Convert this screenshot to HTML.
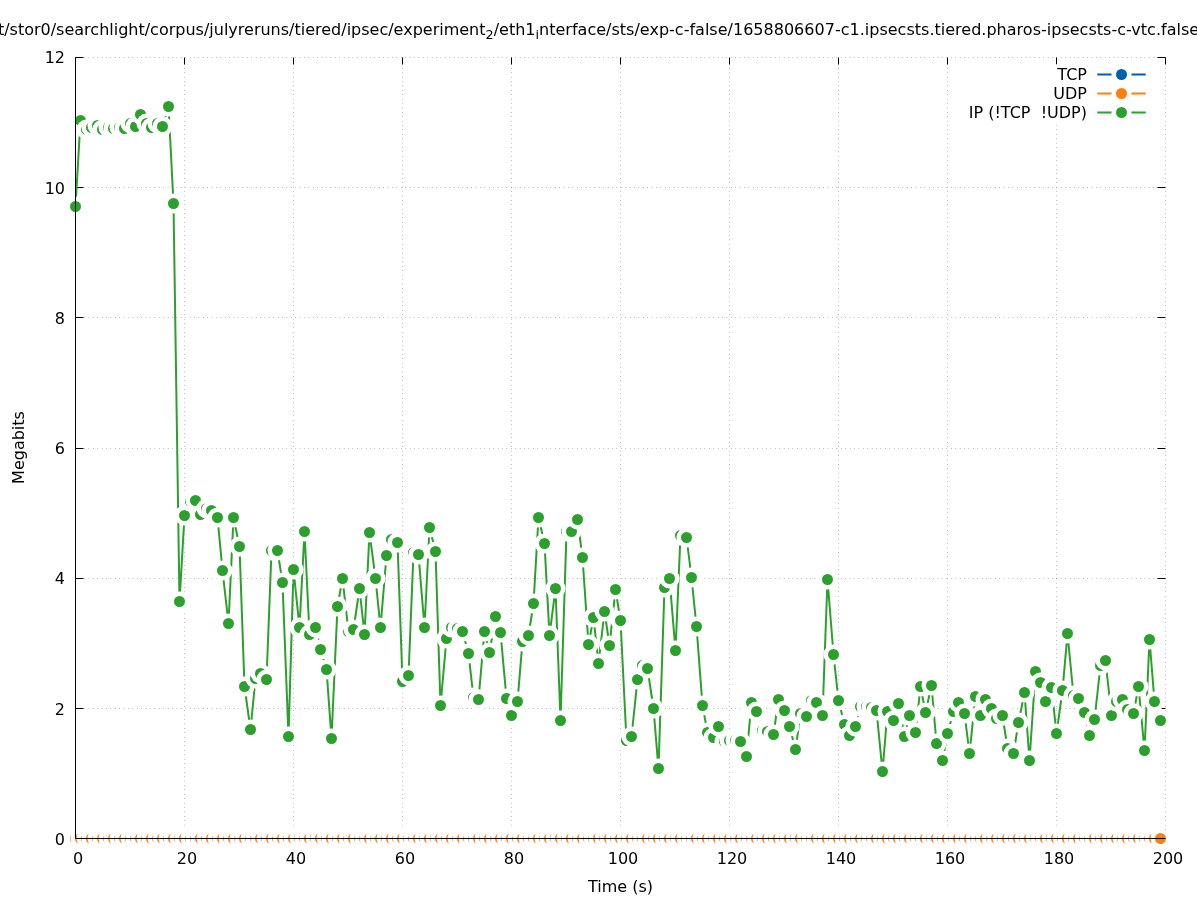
<!DOCTYPE html>
<html><head><meta charset="utf-8"><title>Megabits over time</title>
<style>html,body{margin:0;padding:0;background:#fff;overflow:hidden}svg{display:block}text{font-family:"DejaVu Sans","Liberation Sans",sans-serif;font-size:16px;fill:#000}</style>
</head><body>
<svg width="1197" height="900" viewBox="0 0 1197 900">
<rect width="1197" height="900" fill="#fff"/>
<g stroke="#000" stroke-width="0.6" stroke-dasharray="0.4 4" fill="none">
<path d="M75.5 838.50H1165.5"/>
<path d="M75.5 708.50H1165.5"/>
<path d="M75.5 578.50H1165.5"/>
<path d="M75.5 448.50H1165.5"/>
<path d="M75.5 317.50H1165.5"/>
<path d="M75.5 187.50H1165.5"/>
<path d="M75.5 57.50H1165.5"/>
<path d="M75.50 838.5V57.5"/>
<path d="M184.50 838.5V57.5"/>
<path d="M293.50 838.5V57.5"/>
<path d="M402.50 838.5V57.5"/>
<path d="M511.50 838.5V57.5"/>
<path d="M620.50 838.5V57.5"/>
<path d="M729.50 838.5V57.5"/>
<path d="M838.50 838.5V57.5"/>
<path d="M947.50 838.5V57.5"/>
<path d="M1056.50 838.5V57.5"/>
<path d="M1165.50 838.5V57.5"/>
</g>
<g stroke="#000" stroke-width="1" fill="none">
<path d="M75.5 838.50h8M1165.5 838.50h-8"/>
<path d="M75.5 708.50h8M1165.5 708.50h-8"/>
<path d="M75.5 578.50h8M1165.5 578.50h-8"/>
<path d="M75.5 448.50h8M1165.5 448.50h-8"/>
<path d="M75.5 317.50h8M1165.5 317.50h-8"/>
<path d="M75.5 187.50h8M1165.5 187.50h-8"/>
<path d="M75.5 57.50h8M1165.5 57.50h-8"/>
<path d="M75.50 838.5v-7M75.50 57.5v7"/>
<path d="M184.50 838.5v-7M184.50 57.5v7"/>
<path d="M293.50 838.5v-7M293.50 57.5v7"/>
<path d="M402.50 838.5v-7M402.50 57.5v7"/>
<path d="M511.50 838.5v-7M511.50 57.5v7"/>
<path d="M620.50 838.5v-7M620.50 57.5v7"/>
<path d="M729.50 838.5v-7M729.50 57.5v7"/>
<path d="M838.50 838.5v-7M838.50 57.5v7"/>
<path d="M947.50 838.5v-7M947.50 57.5v7"/>
<path d="M1056.50 838.5v-7M1056.50 57.5v7"/>
<path d="M1165.50 838.5v-7M1165.50 57.5v7"/>
</g>
<g text-anchor="end">
<text x="65" y="845">0</text>
<text x="65" y="715">2</text>
<text x="65" y="584">4</text>
<text x="65" y="454">6</text>
<text x="65" y="324">8</text>
<text x="65" y="194">10</text>
<text x="65" y="63">12</text>
</g>
<g text-anchor="middle">
<text x="78.0" y="863.5">0</text>
<text x="187.0" y="863.5">20</text>
<text x="296.0" y="863.5">40</text>
<text x="405.0" y="863.5">60</text>
<text x="514.0" y="863.5">80</text>
<text x="623.0" y="863.5">100</text>
<text x="732.0" y="863.5">120</text>
<text x="841.0" y="863.5">140</text>
<text x="950.0" y="863.5">160</text>
<text x="1059.0" y="863.5">180</text>
<text x="1168.0" y="863.5">200</text>
<text x="620.5" y="891.5">Time (s)</text>
<text transform="translate(24,447.5) rotate(-90)">Megabits</text>
</g>
<text x="-2.1" y="35">t/stor0/searchlight/corpus/julyreruns/tiered/ipsec/experiment<tspan dy="3.84" font-size="12.8px">2</tspan><tspan dy="-3.84">/eth1</tspan><tspan dy="3.84" font-size="12.8px">i</tspan><tspan dy="-3.84" letter-spacing="0.012">nterface/sts/exp-c-false/1658806607-c1.ipsecsts.tiered.pharos-ipsecsts-c-vtc.false</tspan></text>
<rect x="960" y="64.5" width="198.5" height="60" fill="#fff"/>
<text x="1087" y="79.5" text-anchor="end" xml:space="preserve" style="white-space:pre">TCP</text>
<path d="M1097.3 74.5H1145.7" stroke="#0060ad" stroke-width="2" fill="none"/>
<circle cx="1121.5" cy="74.5" r="10.0" fill="#fff"/><circle cx="1121.5" cy="74.5" r="5.5" fill="#0060ad"/>
<text x="1087" y="98.5" text-anchor="end" xml:space="preserve" style="white-space:pre">UDP</text>
<path d="M1097.3 93.5H1145.7" stroke="#ff7f0e" stroke-width="2" fill="none"/>
<circle cx="1121.5" cy="93.5" r="10.0" fill="#fff"/><circle cx="1121.5" cy="93.5" r="5.5" fill="#ff7f0e"/>
<path d="M75.5 838.5H1160.50" stroke="#ff7f0e" stroke-width="2" fill="none"/>
<g>
<circle cx="75.50" cy="838.5" r="10.0" fill="#fff"/><circle cx="75.50" cy="838.5" r="5.5" fill="#ff7f0e"/>
<circle cx="80.50" cy="838.5" r="10.0" fill="#fff"/><circle cx="80.50" cy="838.5" r="5.5" fill="#ff7f0e"/>
<circle cx="86.50" cy="838.5" r="10.0" fill="#fff"/><circle cx="86.50" cy="838.5" r="5.5" fill="#ff7f0e"/>
<circle cx="91.50" cy="838.5" r="10.0" fill="#fff"/><circle cx="91.50" cy="838.5" r="5.5" fill="#ff7f0e"/>
<circle cx="97.50" cy="838.5" r="10.0" fill="#fff"/><circle cx="97.50" cy="838.5" r="5.5" fill="#ff7f0e"/>
<circle cx="102.50" cy="838.5" r="10.0" fill="#fff"/><circle cx="102.50" cy="838.5" r="5.5" fill="#ff7f0e"/>
<circle cx="108.50" cy="838.5" r="10.0" fill="#fff"/><circle cx="108.50" cy="838.5" r="5.5" fill="#ff7f0e"/>
<circle cx="113.50" cy="838.5" r="10.0" fill="#fff"/><circle cx="113.50" cy="838.5" r="5.5" fill="#ff7f0e"/>
<circle cx="119.50" cy="838.5" r="10.0" fill="#fff"/><circle cx="119.50" cy="838.5" r="5.5" fill="#ff7f0e"/>
<circle cx="124.50" cy="838.5" r="10.0" fill="#fff"/><circle cx="124.50" cy="838.5" r="5.5" fill="#ff7f0e"/>
<circle cx="130.50" cy="838.5" r="10.0" fill="#fff"/><circle cx="130.50" cy="838.5" r="5.5" fill="#ff7f0e"/>
<circle cx="135.50" cy="838.5" r="10.0" fill="#fff"/><circle cx="135.50" cy="838.5" r="5.5" fill="#ff7f0e"/>
<circle cx="140.50" cy="838.5" r="10.0" fill="#fff"/><circle cx="140.50" cy="838.5" r="5.5" fill="#ff7f0e"/>
<circle cx="146.50" cy="838.5" r="10.0" fill="#fff"/><circle cx="146.50" cy="838.5" r="5.5" fill="#ff7f0e"/>
<circle cx="151.50" cy="838.5" r="10.0" fill="#fff"/><circle cx="151.50" cy="838.5" r="5.5" fill="#ff7f0e"/>
<circle cx="157.50" cy="838.5" r="10.0" fill="#fff"/><circle cx="157.50" cy="838.5" r="5.5" fill="#ff7f0e"/>
<circle cx="162.50" cy="838.5" r="10.0" fill="#fff"/><circle cx="162.50" cy="838.5" r="5.5" fill="#ff7f0e"/>
<circle cx="168.50" cy="838.5" r="10.0" fill="#fff"/><circle cx="168.50" cy="838.5" r="5.5" fill="#ff7f0e"/>
<circle cx="173.50" cy="838.5" r="10.0" fill="#fff"/><circle cx="173.50" cy="838.5" r="5.5" fill="#ff7f0e"/>
<circle cx="179.50" cy="838.5" r="10.0" fill="#fff"/><circle cx="179.50" cy="838.5" r="5.5" fill="#ff7f0e"/>
<circle cx="184.50" cy="838.5" r="10.0" fill="#fff"/><circle cx="184.50" cy="838.5" r="5.5" fill="#ff7f0e"/>
<circle cx="190.50" cy="838.5" r="10.0" fill="#fff"/><circle cx="190.50" cy="838.5" r="5.5" fill="#ff7f0e"/>
<circle cx="195.50" cy="838.5" r="10.0" fill="#fff"/><circle cx="195.50" cy="838.5" r="5.5" fill="#ff7f0e"/>
<circle cx="200.50" cy="838.5" r="10.0" fill="#fff"/><circle cx="200.50" cy="838.5" r="5.5" fill="#ff7f0e"/>
<circle cx="206.50" cy="838.5" r="10.0" fill="#fff"/><circle cx="206.50" cy="838.5" r="5.5" fill="#ff7f0e"/>
<circle cx="211.50" cy="838.5" r="10.0" fill="#fff"/><circle cx="211.50" cy="838.5" r="5.5" fill="#ff7f0e"/>
<circle cx="217.50" cy="838.5" r="10.0" fill="#fff"/><circle cx="217.50" cy="838.5" r="5.5" fill="#ff7f0e"/>
<circle cx="222.50" cy="838.5" r="10.0" fill="#fff"/><circle cx="222.50" cy="838.5" r="5.5" fill="#ff7f0e"/>
<circle cx="228.50" cy="838.5" r="10.0" fill="#fff"/><circle cx="228.50" cy="838.5" r="5.5" fill="#ff7f0e"/>
<circle cx="233.50" cy="838.5" r="10.0" fill="#fff"/><circle cx="233.50" cy="838.5" r="5.5" fill="#ff7f0e"/>
<circle cx="239.50" cy="838.5" r="10.0" fill="#fff"/><circle cx="239.50" cy="838.5" r="5.5" fill="#ff7f0e"/>
<circle cx="244.50" cy="838.5" r="10.0" fill="#fff"/><circle cx="244.50" cy="838.5" r="5.5" fill="#ff7f0e"/>
<circle cx="250.50" cy="838.5" r="10.0" fill="#fff"/><circle cx="250.50" cy="838.5" r="5.5" fill="#ff7f0e"/>
<circle cx="255.50" cy="838.5" r="10.0" fill="#fff"/><circle cx="255.50" cy="838.5" r="5.5" fill="#ff7f0e"/>
<circle cx="260.50" cy="838.5" r="10.0" fill="#fff"/><circle cx="260.50" cy="838.5" r="5.5" fill="#ff7f0e"/>
<circle cx="266.50" cy="838.5" r="10.0" fill="#fff"/><circle cx="266.50" cy="838.5" r="5.5" fill="#ff7f0e"/>
<circle cx="271.50" cy="838.5" r="10.0" fill="#fff"/><circle cx="271.50" cy="838.5" r="5.5" fill="#ff7f0e"/>
<circle cx="277.50" cy="838.5" r="10.0" fill="#fff"/><circle cx="277.50" cy="838.5" r="5.5" fill="#ff7f0e"/>
<circle cx="282.50" cy="838.5" r="10.0" fill="#fff"/><circle cx="282.50" cy="838.5" r="5.5" fill="#ff7f0e"/>
<circle cx="288.50" cy="838.5" r="10.0" fill="#fff"/><circle cx="288.50" cy="838.5" r="5.5" fill="#ff7f0e"/>
<circle cx="293.50" cy="838.5" r="10.0" fill="#fff"/><circle cx="293.50" cy="838.5" r="5.5" fill="#ff7f0e"/>
<circle cx="299.50" cy="838.5" r="10.0" fill="#fff"/><circle cx="299.50" cy="838.5" r="5.5" fill="#ff7f0e"/>
<circle cx="304.50" cy="838.5" r="10.0" fill="#fff"/><circle cx="304.50" cy="838.5" r="5.5" fill="#ff7f0e"/>
<circle cx="309.50" cy="838.5" r="10.0" fill="#fff"/><circle cx="309.50" cy="838.5" r="5.5" fill="#ff7f0e"/>
<circle cx="315.50" cy="838.5" r="10.0" fill="#fff"/><circle cx="315.50" cy="838.5" r="5.5" fill="#ff7f0e"/>
<circle cx="320.50" cy="838.5" r="10.0" fill="#fff"/><circle cx="320.50" cy="838.5" r="5.5" fill="#ff7f0e"/>
<circle cx="326.50" cy="838.5" r="10.0" fill="#fff"/><circle cx="326.50" cy="838.5" r="5.5" fill="#ff7f0e"/>
<circle cx="331.50" cy="838.5" r="10.0" fill="#fff"/><circle cx="331.50" cy="838.5" r="5.5" fill="#ff7f0e"/>
<circle cx="337.50" cy="838.5" r="10.0" fill="#fff"/><circle cx="337.50" cy="838.5" r="5.5" fill="#ff7f0e"/>
<circle cx="342.50" cy="838.5" r="10.0" fill="#fff"/><circle cx="342.50" cy="838.5" r="5.5" fill="#ff7f0e"/>
<circle cx="348.50" cy="838.5" r="10.0" fill="#fff"/><circle cx="348.50" cy="838.5" r="5.5" fill="#ff7f0e"/>
<circle cx="353.50" cy="838.5" r="10.0" fill="#fff"/><circle cx="353.50" cy="838.5" r="5.5" fill="#ff7f0e"/>
<circle cx="359.50" cy="838.5" r="10.0" fill="#fff"/><circle cx="359.50" cy="838.5" r="5.5" fill="#ff7f0e"/>
<circle cx="364.50" cy="838.5" r="10.0" fill="#fff"/><circle cx="364.50" cy="838.5" r="5.5" fill="#ff7f0e"/>
<circle cx="369.50" cy="838.5" r="10.0" fill="#fff"/><circle cx="369.50" cy="838.5" r="5.5" fill="#ff7f0e"/>
<circle cx="375.50" cy="838.5" r="10.0" fill="#fff"/><circle cx="375.50" cy="838.5" r="5.5" fill="#ff7f0e"/>
<circle cx="380.50" cy="838.5" r="10.0" fill="#fff"/><circle cx="380.50" cy="838.5" r="5.5" fill="#ff7f0e"/>
<circle cx="386.50" cy="838.5" r="10.0" fill="#fff"/><circle cx="386.50" cy="838.5" r="5.5" fill="#ff7f0e"/>
<circle cx="391.50" cy="838.5" r="10.0" fill="#fff"/><circle cx="391.50" cy="838.5" r="5.5" fill="#ff7f0e"/>
<circle cx="397.50" cy="838.5" r="10.0" fill="#fff"/><circle cx="397.50" cy="838.5" r="5.5" fill="#ff7f0e"/>
<circle cx="402.50" cy="838.5" r="10.0" fill="#fff"/><circle cx="402.50" cy="838.5" r="5.5" fill="#ff7f0e"/>
<circle cx="408.50" cy="838.5" r="10.0" fill="#fff"/><circle cx="408.50" cy="838.5" r="5.5" fill="#ff7f0e"/>
<circle cx="413.50" cy="838.5" r="10.0" fill="#fff"/><circle cx="413.50" cy="838.5" r="5.5" fill="#ff7f0e"/>
<circle cx="418.50" cy="838.5" r="10.0" fill="#fff"/><circle cx="418.50" cy="838.5" r="5.5" fill="#ff7f0e"/>
<circle cx="424.50" cy="838.5" r="10.0" fill="#fff"/><circle cx="424.50" cy="838.5" r="5.5" fill="#ff7f0e"/>
<circle cx="429.50" cy="838.5" r="10.0" fill="#fff"/><circle cx="429.50" cy="838.5" r="5.5" fill="#ff7f0e"/>
<circle cx="435.50" cy="838.5" r="10.0" fill="#fff"/><circle cx="435.50" cy="838.5" r="5.5" fill="#ff7f0e"/>
<circle cx="440.50" cy="838.5" r="10.0" fill="#fff"/><circle cx="440.50" cy="838.5" r="5.5" fill="#ff7f0e"/>
<circle cx="446.50" cy="838.5" r="10.0" fill="#fff"/><circle cx="446.50" cy="838.5" r="5.5" fill="#ff7f0e"/>
<circle cx="451.50" cy="838.5" r="10.0" fill="#fff"/><circle cx="451.50" cy="838.5" r="5.5" fill="#ff7f0e"/>
<circle cx="457.50" cy="838.5" r="10.0" fill="#fff"/><circle cx="457.50" cy="838.5" r="5.5" fill="#ff7f0e"/>
<circle cx="462.50" cy="838.5" r="10.0" fill="#fff"/><circle cx="462.50" cy="838.5" r="5.5" fill="#ff7f0e"/>
<circle cx="468.50" cy="838.5" r="10.0" fill="#fff"/><circle cx="468.50" cy="838.5" r="5.5" fill="#ff7f0e"/>
<circle cx="473.50" cy="838.5" r="10.0" fill="#fff"/><circle cx="473.50" cy="838.5" r="5.5" fill="#ff7f0e"/>
<circle cx="478.50" cy="838.5" r="10.0" fill="#fff"/><circle cx="478.50" cy="838.5" r="5.5" fill="#ff7f0e"/>
<circle cx="484.50" cy="838.5" r="10.0" fill="#fff"/><circle cx="484.50" cy="838.5" r="5.5" fill="#ff7f0e"/>
<circle cx="489.50" cy="838.5" r="10.0" fill="#fff"/><circle cx="489.50" cy="838.5" r="5.5" fill="#ff7f0e"/>
<circle cx="495.50" cy="838.5" r="10.0" fill="#fff"/><circle cx="495.50" cy="838.5" r="5.5" fill="#ff7f0e"/>
<circle cx="500.50" cy="838.5" r="10.0" fill="#fff"/><circle cx="500.50" cy="838.5" r="5.5" fill="#ff7f0e"/>
<circle cx="506.50" cy="838.5" r="10.0" fill="#fff"/><circle cx="506.50" cy="838.5" r="5.5" fill="#ff7f0e"/>
<circle cx="511.50" cy="838.5" r="10.0" fill="#fff"/><circle cx="511.50" cy="838.5" r="5.5" fill="#ff7f0e"/>
<circle cx="517.50" cy="838.5" r="10.0" fill="#fff"/><circle cx="517.50" cy="838.5" r="5.5" fill="#ff7f0e"/>
<circle cx="522.50" cy="838.5" r="10.0" fill="#fff"/><circle cx="522.50" cy="838.5" r="5.5" fill="#ff7f0e"/>
<circle cx="528.50" cy="838.5" r="10.0" fill="#fff"/><circle cx="528.50" cy="838.5" r="5.5" fill="#ff7f0e"/>
<circle cx="533.50" cy="838.5" r="10.0" fill="#fff"/><circle cx="533.50" cy="838.5" r="5.5" fill="#ff7f0e"/>
<circle cx="538.50" cy="838.5" r="10.0" fill="#fff"/><circle cx="538.50" cy="838.5" r="5.5" fill="#ff7f0e"/>
<circle cx="544.50" cy="838.5" r="10.0" fill="#fff"/><circle cx="544.50" cy="838.5" r="5.5" fill="#ff7f0e"/>
<circle cx="549.50" cy="838.5" r="10.0" fill="#fff"/><circle cx="549.50" cy="838.5" r="5.5" fill="#ff7f0e"/>
<circle cx="555.50" cy="838.5" r="10.0" fill="#fff"/><circle cx="555.50" cy="838.5" r="5.5" fill="#ff7f0e"/>
<circle cx="560.50" cy="838.5" r="10.0" fill="#fff"/><circle cx="560.50" cy="838.5" r="5.5" fill="#ff7f0e"/>
<circle cx="566.50" cy="838.5" r="10.0" fill="#fff"/><circle cx="566.50" cy="838.5" r="5.5" fill="#ff7f0e"/>
<circle cx="571.50" cy="838.5" r="10.0" fill="#fff"/><circle cx="571.50" cy="838.5" r="5.5" fill="#ff7f0e"/>
<circle cx="577.50" cy="838.5" r="10.0" fill="#fff"/><circle cx="577.50" cy="838.5" r="5.5" fill="#ff7f0e"/>
<circle cx="582.50" cy="838.5" r="10.0" fill="#fff"/><circle cx="582.50" cy="838.5" r="5.5" fill="#ff7f0e"/>
<circle cx="588.50" cy="838.5" r="10.0" fill="#fff"/><circle cx="588.50" cy="838.5" r="5.5" fill="#ff7f0e"/>
<circle cx="593.50" cy="838.5" r="10.0" fill="#fff"/><circle cx="593.50" cy="838.5" r="5.5" fill="#ff7f0e"/>
<circle cx="598.50" cy="838.5" r="10.0" fill="#fff"/><circle cx="598.50" cy="838.5" r="5.5" fill="#ff7f0e"/>
<circle cx="604.50" cy="838.5" r="10.0" fill="#fff"/><circle cx="604.50" cy="838.5" r="5.5" fill="#ff7f0e"/>
<circle cx="609.50" cy="838.5" r="10.0" fill="#fff"/><circle cx="609.50" cy="838.5" r="5.5" fill="#ff7f0e"/>
<circle cx="615.50" cy="838.5" r="10.0" fill="#fff"/><circle cx="615.50" cy="838.5" r="5.5" fill="#ff7f0e"/>
<circle cx="620.50" cy="838.5" r="10.0" fill="#fff"/><circle cx="620.50" cy="838.5" r="5.5" fill="#ff7f0e"/>
<circle cx="626.50" cy="838.5" r="10.0" fill="#fff"/><circle cx="626.50" cy="838.5" r="5.5" fill="#ff7f0e"/>
<circle cx="631.50" cy="838.5" r="10.0" fill="#fff"/><circle cx="631.50" cy="838.5" r="5.5" fill="#ff7f0e"/>
<circle cx="637.50" cy="838.5" r="10.0" fill="#fff"/><circle cx="637.50" cy="838.5" r="5.5" fill="#ff7f0e"/>
<circle cx="642.50" cy="838.5" r="10.0" fill="#fff"/><circle cx="642.50" cy="838.5" r="5.5" fill="#ff7f0e"/>
<circle cx="647.50" cy="838.5" r="10.0" fill="#fff"/><circle cx="647.50" cy="838.5" r="5.5" fill="#ff7f0e"/>
<circle cx="653.50" cy="838.5" r="10.0" fill="#fff"/><circle cx="653.50" cy="838.5" r="5.5" fill="#ff7f0e"/>
<circle cx="658.50" cy="838.5" r="10.0" fill="#fff"/><circle cx="658.50" cy="838.5" r="5.5" fill="#ff7f0e"/>
<circle cx="664.50" cy="838.5" r="10.0" fill="#fff"/><circle cx="664.50" cy="838.5" r="5.5" fill="#ff7f0e"/>
<circle cx="669.50" cy="838.5" r="10.0" fill="#fff"/><circle cx="669.50" cy="838.5" r="5.5" fill="#ff7f0e"/>
<circle cx="675.50" cy="838.5" r="10.0" fill="#fff"/><circle cx="675.50" cy="838.5" r="5.5" fill="#ff7f0e"/>
<circle cx="680.50" cy="838.5" r="10.0" fill="#fff"/><circle cx="680.50" cy="838.5" r="5.5" fill="#ff7f0e"/>
<circle cx="686.50" cy="838.5" r="10.0" fill="#fff"/><circle cx="686.50" cy="838.5" r="5.5" fill="#ff7f0e"/>
<circle cx="691.50" cy="838.5" r="10.0" fill="#fff"/><circle cx="691.50" cy="838.5" r="5.5" fill="#ff7f0e"/>
<circle cx="696.50" cy="838.5" r="10.0" fill="#fff"/><circle cx="696.50" cy="838.5" r="5.5" fill="#ff7f0e"/>
<circle cx="702.50" cy="838.5" r="10.0" fill="#fff"/><circle cx="702.50" cy="838.5" r="5.5" fill="#ff7f0e"/>
<circle cx="707.50" cy="838.5" r="10.0" fill="#fff"/><circle cx="707.50" cy="838.5" r="5.5" fill="#ff7f0e"/>
<circle cx="713.50" cy="838.5" r="10.0" fill="#fff"/><circle cx="713.50" cy="838.5" r="5.5" fill="#ff7f0e"/>
<circle cx="718.50" cy="838.5" r="10.0" fill="#fff"/><circle cx="718.50" cy="838.5" r="5.5" fill="#ff7f0e"/>
<circle cx="724.50" cy="838.5" r="10.0" fill="#fff"/><circle cx="724.50" cy="838.5" r="5.5" fill="#ff7f0e"/>
<circle cx="729.50" cy="838.5" r="10.0" fill="#fff"/><circle cx="729.50" cy="838.5" r="5.5" fill="#ff7f0e"/>
<circle cx="735.50" cy="838.5" r="10.0" fill="#fff"/><circle cx="735.50" cy="838.5" r="5.5" fill="#ff7f0e"/>
<circle cx="740.50" cy="838.5" r="10.0" fill="#fff"/><circle cx="740.50" cy="838.5" r="5.5" fill="#ff7f0e"/>
<circle cx="746.50" cy="838.5" r="10.0" fill="#fff"/><circle cx="746.50" cy="838.5" r="5.5" fill="#ff7f0e"/>
<circle cx="751.50" cy="838.5" r="10.0" fill="#fff"/><circle cx="751.50" cy="838.5" r="5.5" fill="#ff7f0e"/>
<circle cx="756.50" cy="838.5" r="10.0" fill="#fff"/><circle cx="756.50" cy="838.5" r="5.5" fill="#ff7f0e"/>
<circle cx="762.50" cy="838.5" r="10.0" fill="#fff"/><circle cx="762.50" cy="838.5" r="5.5" fill="#ff7f0e"/>
<circle cx="767.50" cy="838.5" r="10.0" fill="#fff"/><circle cx="767.50" cy="838.5" r="5.5" fill="#ff7f0e"/>
<circle cx="773.50" cy="838.5" r="10.0" fill="#fff"/><circle cx="773.50" cy="838.5" r="5.5" fill="#ff7f0e"/>
<circle cx="778.50" cy="838.5" r="10.0" fill="#fff"/><circle cx="778.50" cy="838.5" r="5.5" fill="#ff7f0e"/>
<circle cx="784.50" cy="838.5" r="10.0" fill="#fff"/><circle cx="784.50" cy="838.5" r="5.5" fill="#ff7f0e"/>
<circle cx="789.50" cy="838.5" r="10.0" fill="#fff"/><circle cx="789.50" cy="838.5" r="5.5" fill="#ff7f0e"/>
<circle cx="795.50" cy="838.5" r="10.0" fill="#fff"/><circle cx="795.50" cy="838.5" r="5.5" fill="#ff7f0e"/>
<circle cx="800.50" cy="838.5" r="10.0" fill="#fff"/><circle cx="800.50" cy="838.5" r="5.5" fill="#ff7f0e"/>
<circle cx="806.50" cy="838.5" r="10.0" fill="#fff"/><circle cx="806.50" cy="838.5" r="5.5" fill="#ff7f0e"/>
<circle cx="811.50" cy="838.5" r="10.0" fill="#fff"/><circle cx="811.50" cy="838.5" r="5.5" fill="#ff7f0e"/>
<circle cx="816.50" cy="838.5" r="10.0" fill="#fff"/><circle cx="816.50" cy="838.5" r="5.5" fill="#ff7f0e"/>
<circle cx="822.50" cy="838.5" r="10.0" fill="#fff"/><circle cx="822.50" cy="838.5" r="5.5" fill="#ff7f0e"/>
<circle cx="827.50" cy="838.5" r="10.0" fill="#fff"/><circle cx="827.50" cy="838.5" r="5.5" fill="#ff7f0e"/>
<circle cx="833.50" cy="838.5" r="10.0" fill="#fff"/><circle cx="833.50" cy="838.5" r="5.5" fill="#ff7f0e"/>
<circle cx="838.50" cy="838.5" r="10.0" fill="#fff"/><circle cx="838.50" cy="838.5" r="5.5" fill="#ff7f0e"/>
<circle cx="844.50" cy="838.5" r="10.0" fill="#fff"/><circle cx="844.50" cy="838.5" r="5.5" fill="#ff7f0e"/>
<circle cx="849.50" cy="838.5" r="10.0" fill="#fff"/><circle cx="849.50" cy="838.5" r="5.5" fill="#ff7f0e"/>
<circle cx="855.50" cy="838.5" r="10.0" fill="#fff"/><circle cx="855.50" cy="838.5" r="5.5" fill="#ff7f0e"/>
<circle cx="860.50" cy="838.5" r="10.0" fill="#fff"/><circle cx="860.50" cy="838.5" r="5.5" fill="#ff7f0e"/>
<circle cx="866.50" cy="838.5" r="10.0" fill="#fff"/><circle cx="866.50" cy="838.5" r="5.5" fill="#ff7f0e"/>
<circle cx="871.50" cy="838.5" r="10.0" fill="#fff"/><circle cx="871.50" cy="838.5" r="5.5" fill="#ff7f0e"/>
<circle cx="876.50" cy="838.5" r="10.0" fill="#fff"/><circle cx="876.50" cy="838.5" r="5.5" fill="#ff7f0e"/>
<circle cx="882.50" cy="838.5" r="10.0" fill="#fff"/><circle cx="882.50" cy="838.5" r="5.5" fill="#ff7f0e"/>
<circle cx="887.50" cy="838.5" r="10.0" fill="#fff"/><circle cx="887.50" cy="838.5" r="5.5" fill="#ff7f0e"/>
<circle cx="893.50" cy="838.5" r="10.0" fill="#fff"/><circle cx="893.50" cy="838.5" r="5.5" fill="#ff7f0e"/>
<circle cx="898.50" cy="838.5" r="10.0" fill="#fff"/><circle cx="898.50" cy="838.5" r="5.5" fill="#ff7f0e"/>
<circle cx="904.50" cy="838.5" r="10.0" fill="#fff"/><circle cx="904.50" cy="838.5" r="5.5" fill="#ff7f0e"/>
<circle cx="909.50" cy="838.5" r="10.0" fill="#fff"/><circle cx="909.50" cy="838.5" r="5.5" fill="#ff7f0e"/>
<circle cx="915.50" cy="838.5" r="10.0" fill="#fff"/><circle cx="915.50" cy="838.5" r="5.5" fill="#ff7f0e"/>
<circle cx="920.50" cy="838.5" r="10.0" fill="#fff"/><circle cx="920.50" cy="838.5" r="5.5" fill="#ff7f0e"/>
<circle cx="925.50" cy="838.5" r="10.0" fill="#fff"/><circle cx="925.50" cy="838.5" r="5.5" fill="#ff7f0e"/>
<circle cx="931.50" cy="838.5" r="10.0" fill="#fff"/><circle cx="931.50" cy="838.5" r="5.5" fill="#ff7f0e"/>
<circle cx="936.50" cy="838.5" r="10.0" fill="#fff"/><circle cx="936.50" cy="838.5" r="5.5" fill="#ff7f0e"/>
<circle cx="942.50" cy="838.5" r="10.0" fill="#fff"/><circle cx="942.50" cy="838.5" r="5.5" fill="#ff7f0e"/>
<circle cx="947.50" cy="838.5" r="10.0" fill="#fff"/><circle cx="947.50" cy="838.5" r="5.5" fill="#ff7f0e"/>
<circle cx="953.50" cy="838.5" r="10.0" fill="#fff"/><circle cx="953.50" cy="838.5" r="5.5" fill="#ff7f0e"/>
<circle cx="958.50" cy="838.5" r="10.0" fill="#fff"/><circle cx="958.50" cy="838.5" r="5.5" fill="#ff7f0e"/>
<circle cx="964.50" cy="838.5" r="10.0" fill="#fff"/><circle cx="964.50" cy="838.5" r="5.5" fill="#ff7f0e"/>
<circle cx="969.50" cy="838.5" r="10.0" fill="#fff"/><circle cx="969.50" cy="838.5" r="5.5" fill="#ff7f0e"/>
<circle cx="975.50" cy="838.5" r="10.0" fill="#fff"/><circle cx="975.50" cy="838.5" r="5.5" fill="#ff7f0e"/>
<circle cx="980.50" cy="838.5" r="10.0" fill="#fff"/><circle cx="980.50" cy="838.5" r="5.5" fill="#ff7f0e"/>
<circle cx="985.50" cy="838.5" r="10.0" fill="#fff"/><circle cx="985.50" cy="838.5" r="5.5" fill="#ff7f0e"/>
<circle cx="991.50" cy="838.5" r="10.0" fill="#fff"/><circle cx="991.50" cy="838.5" r="5.5" fill="#ff7f0e"/>
<circle cx="996.50" cy="838.5" r="10.0" fill="#fff"/><circle cx="996.50" cy="838.5" r="5.5" fill="#ff7f0e"/>
<circle cx="1002.50" cy="838.5" r="10.0" fill="#fff"/><circle cx="1002.50" cy="838.5" r="5.5" fill="#ff7f0e"/>
<circle cx="1007.50" cy="838.5" r="10.0" fill="#fff"/><circle cx="1007.50" cy="838.5" r="5.5" fill="#ff7f0e"/>
<circle cx="1013.50" cy="838.5" r="10.0" fill="#fff"/><circle cx="1013.50" cy="838.5" r="5.5" fill="#ff7f0e"/>
<circle cx="1018.50" cy="838.5" r="10.0" fill="#fff"/><circle cx="1018.50" cy="838.5" r="5.5" fill="#ff7f0e"/>
<circle cx="1024.50" cy="838.5" r="10.0" fill="#fff"/><circle cx="1024.50" cy="838.5" r="5.5" fill="#ff7f0e"/>
<circle cx="1029.50" cy="838.5" r="10.0" fill="#fff"/><circle cx="1029.50" cy="838.5" r="5.5" fill="#ff7f0e"/>
<circle cx="1035.50" cy="838.5" r="10.0" fill="#fff"/><circle cx="1035.50" cy="838.5" r="5.5" fill="#ff7f0e"/>
<circle cx="1040.50" cy="838.5" r="10.0" fill="#fff"/><circle cx="1040.50" cy="838.5" r="5.5" fill="#ff7f0e"/>
<circle cx="1045.50" cy="838.5" r="10.0" fill="#fff"/><circle cx="1045.50" cy="838.5" r="5.5" fill="#ff7f0e"/>
<circle cx="1051.50" cy="838.5" r="10.0" fill="#fff"/><circle cx="1051.50" cy="838.5" r="5.5" fill="#ff7f0e"/>
<circle cx="1056.50" cy="838.5" r="10.0" fill="#fff"/><circle cx="1056.50" cy="838.5" r="5.5" fill="#ff7f0e"/>
<circle cx="1062.50" cy="838.5" r="10.0" fill="#fff"/><circle cx="1062.50" cy="838.5" r="5.5" fill="#ff7f0e"/>
<circle cx="1067.50" cy="838.5" r="10.0" fill="#fff"/><circle cx="1067.50" cy="838.5" r="5.5" fill="#ff7f0e"/>
<circle cx="1073.50" cy="838.5" r="10.0" fill="#fff"/><circle cx="1073.50" cy="838.5" r="5.5" fill="#ff7f0e"/>
<circle cx="1078.50" cy="838.5" r="10.0" fill="#fff"/><circle cx="1078.50" cy="838.5" r="5.5" fill="#ff7f0e"/>
<circle cx="1084.50" cy="838.5" r="10.0" fill="#fff"/><circle cx="1084.50" cy="838.5" r="5.5" fill="#ff7f0e"/>
<circle cx="1089.50" cy="838.5" r="10.0" fill="#fff"/><circle cx="1089.50" cy="838.5" r="5.5" fill="#ff7f0e"/>
<circle cx="1094.50" cy="838.5" r="10.0" fill="#fff"/><circle cx="1094.50" cy="838.5" r="5.5" fill="#ff7f0e"/>
<circle cx="1100.50" cy="838.5" r="10.0" fill="#fff"/><circle cx="1100.50" cy="838.5" r="5.5" fill="#ff7f0e"/>
<circle cx="1105.50" cy="838.5" r="10.0" fill="#fff"/><circle cx="1105.50" cy="838.5" r="5.5" fill="#ff7f0e"/>
<circle cx="1111.50" cy="838.5" r="10.0" fill="#fff"/><circle cx="1111.50" cy="838.5" r="5.5" fill="#ff7f0e"/>
<circle cx="1116.50" cy="838.5" r="10.0" fill="#fff"/><circle cx="1116.50" cy="838.5" r="5.5" fill="#ff7f0e"/>
<circle cx="1122.50" cy="838.5" r="10.0" fill="#fff"/><circle cx="1122.50" cy="838.5" r="5.5" fill="#ff7f0e"/>
<circle cx="1127.50" cy="838.5" r="10.0" fill="#fff"/><circle cx="1127.50" cy="838.5" r="5.5" fill="#ff7f0e"/>
<circle cx="1133.50" cy="838.5" r="10.0" fill="#fff"/><circle cx="1133.50" cy="838.5" r="5.5" fill="#ff7f0e"/>
<circle cx="1138.50" cy="838.5" r="10.0" fill="#fff"/><circle cx="1138.50" cy="838.5" r="5.5" fill="#ff7f0e"/>
<circle cx="1144.50" cy="838.5" r="10.0" fill="#fff"/><circle cx="1144.50" cy="838.5" r="5.5" fill="#ff7f0e"/>
<circle cx="1149.50" cy="838.5" r="10.0" fill="#fff"/><circle cx="1149.50" cy="838.5" r="5.5" fill="#ff7f0e"/>
<circle cx="1154.50" cy="838.5" r="10.0" fill="#fff"/><circle cx="1154.50" cy="838.5" r="5.5" fill="#ff7f0e"/>
<circle cx="1160.50" cy="838.5" r="10.0" fill="#fff"/><circle cx="1160.50" cy="838.5" r="5.5" fill="#ff7f0e"/>
</g>
<text x="1087" y="117.5" text-anchor="end" xml:space="preserve" style="white-space:pre">IP (!TCP  !UDP)</text>
<path d="M1097.3 112.5H1145.7" stroke="#2ca02c" stroke-width="2" fill="none"/>
<circle cx="1121.5" cy="112.5" r="10.0" fill="#fff"/><circle cx="1121.5" cy="112.5" r="5.5" fill="#2ca02c"/>
<polyline points="75.5,206.5 80.5,120.5 86.5,129.5 91.5,127.5 97.5,125.5 102.5,129.5 108.5,127.5 113.5,128.5 119.5,127.5 124.5,128.5 130.5,123.5 135.5,126.5 140.5,114.5 146.5,123.5 151.5,127.5 157.5,123.5 162.5,126.5 168.5,106.5 173.5,203.5 179.5,601.5 184.5,515.5 190.5,501.5 195.5,500.5 200.5,514.5 206.5,508.5 211.5,510.5 217.5,517.5 222.5,570.5 228.5,623.5 233.5,517.5 239.5,546.5 244.5,686.5 250.5,729.5 255.5,678.5 260.5,673.5 266.5,679.5 271.5,550.5 277.5,550.5 282.5,582.5 288.5,736.5 293.5,569.5 299.5,627.5 304.5,531.5 309.5,634.5 315.5,627.5 320.5,649.5 326.5,669.5 331.5,738.5 337.5,606.5 342.5,578.5 348.5,631.5 353.5,629.5 359.5,588.5 364.5,634.5 369.5,532.5 375.5,578.5 380.5,627.5 386.5,555.5 391.5,539.5 397.5,542.5 402.5,681.5 408.5,675.5 413.5,552.5 418.5,554.5 424.5,627.5 429.5,527.5 435.5,551.5 440.5,705.5 446.5,638.5 451.5,627.5 457.5,628.5 462.5,631.5 468.5,653.5 473.5,697.5 478.5,699.5 484.5,631.5 489.5,652.5 495.5,616.5 500.5,632.5 506.5,698.5 511.5,715.5 517.5,701.5 522.5,641.5 528.5,635.5 533.5,603.5 538.5,517.5 544.5,543.5 549.5,635.5 555.5,588.5 560.5,720.5 566.5,531.5 571.5,531.5 577.5,519.5 582.5,557.5 588.5,644.5 593.5,617.5 598.5,663.5 604.5,611.5 609.5,645.5 615.5,589.5 620.5,620.5 626.5,740.5 631.5,736.5 637.5,679.5 642.5,665.5 647.5,668.5 653.5,708.5 658.5,768.5 664.5,587.5 669.5,578.5 675.5,650.5 680.5,535.5 686.5,537.5 691.5,577.5 696.5,626.5 702.5,705.5 707.5,732.5 713.5,737.5 718.5,726.5 724.5,741.5 729.5,740.5 735.5,740.5 740.5,741.5 746.5,756.5 751.5,702.5 756.5,711.5 762.5,730.5 767.5,731.5 773.5,734.5 778.5,699.5 784.5,710.5 789.5,726.5 795.5,749.5 800.5,713.5 806.5,716.5 811.5,700.5 816.5,702.5 822.5,715.5 827.5,579.5 833.5,654.5 838.5,700.5 844.5,724.5 849.5,735.5 855.5,726.5 860.5,706.5 866.5,706.5 871.5,707.5 876.5,710.5 882.5,771.5 887.5,711.5 893.5,720.5 898.5,703.5 904.5,736.5 909.5,715.5 915.5,732.5 920.5,686.5 925.5,712.5 931.5,685.5 936.5,743.5 942.5,760.5 947.5,733.5 953.5,711.5 958.5,702.5 964.5,713.5 969.5,753.5 975.5,696.5 980.5,715.5 985.5,699.5 991.5,708.5 996.5,718.5 1002.5,715.5 1007.5,748.5 1013.5,753.5 1018.5,722.5 1024.5,692.5 1029.5,760.5 1035.5,671.5 1040.5,682.5 1045.5,701.5 1051.5,687.5 1056.5,733.5 1062.5,690.5 1067.5,633.5 1073.5,695.5 1078.5,698.5 1084.5,712.5 1089.5,735.5 1094.5,719.5 1100.5,665.5 1105.5,660.5 1111.5,715.5 1116.5,701.5 1122.5,699.5 1127.5,709.5 1133.5,713.5 1138.5,686.5 1144.5,750.5 1149.5,639.5 1154.5,701.5 1160.5,720.5" stroke="#2ca02c" stroke-width="2" fill="none" stroke-linejoin="round"/>
<g>
<circle cx="75.5" cy="206.5" r="10.0" fill="#fff"/><circle cx="75.5" cy="206.5" r="5.5" fill="#2ca02c"/>
<circle cx="80.5" cy="120.5" r="10.0" fill="#fff"/><circle cx="80.5" cy="120.5" r="5.5" fill="#2ca02c"/>
<circle cx="86.5" cy="129.5" r="10.0" fill="#fff"/><circle cx="86.5" cy="129.5" r="5.5" fill="#2ca02c"/>
<circle cx="91.5" cy="127.5" r="10.0" fill="#fff"/><circle cx="91.5" cy="127.5" r="5.5" fill="#2ca02c"/>
<circle cx="97.5" cy="125.5" r="10.0" fill="#fff"/><circle cx="97.5" cy="125.5" r="5.5" fill="#2ca02c"/>
<circle cx="102.5" cy="129.5" r="10.0" fill="#fff"/><circle cx="102.5" cy="129.5" r="5.5" fill="#2ca02c"/>
<circle cx="108.5" cy="127.5" r="10.0" fill="#fff"/><circle cx="108.5" cy="127.5" r="5.5" fill="#2ca02c"/>
<circle cx="113.5" cy="128.5" r="10.0" fill="#fff"/><circle cx="113.5" cy="128.5" r="5.5" fill="#2ca02c"/>
<circle cx="119.5" cy="127.5" r="10.0" fill="#fff"/><circle cx="119.5" cy="127.5" r="5.5" fill="#2ca02c"/>
<circle cx="124.5" cy="128.5" r="10.0" fill="#fff"/><circle cx="124.5" cy="128.5" r="5.5" fill="#2ca02c"/>
<circle cx="130.5" cy="123.5" r="10.0" fill="#fff"/><circle cx="130.5" cy="123.5" r="5.5" fill="#2ca02c"/>
<circle cx="135.5" cy="126.5" r="10.0" fill="#fff"/><circle cx="135.5" cy="126.5" r="5.5" fill="#2ca02c"/>
<circle cx="140.5" cy="114.5" r="10.0" fill="#fff"/><circle cx="140.5" cy="114.5" r="5.5" fill="#2ca02c"/>
<circle cx="146.5" cy="123.5" r="10.0" fill="#fff"/><circle cx="146.5" cy="123.5" r="5.5" fill="#2ca02c"/>
<circle cx="151.5" cy="127.5" r="10.0" fill="#fff"/><circle cx="151.5" cy="127.5" r="5.5" fill="#2ca02c"/>
<circle cx="157.5" cy="123.5" r="10.0" fill="#fff"/><circle cx="157.5" cy="123.5" r="5.5" fill="#2ca02c"/>
<circle cx="162.5" cy="126.5" r="10.0" fill="#fff"/><circle cx="162.5" cy="126.5" r="5.5" fill="#2ca02c"/>
<circle cx="168.5" cy="106.5" r="10.0" fill="#fff"/><circle cx="168.5" cy="106.5" r="5.5" fill="#2ca02c"/>
<circle cx="173.5" cy="203.5" r="10.0" fill="#fff"/><circle cx="173.5" cy="203.5" r="5.5" fill="#2ca02c"/>
<circle cx="179.5" cy="601.5" r="10.0" fill="#fff"/><circle cx="179.5" cy="601.5" r="5.5" fill="#2ca02c"/>
<circle cx="184.5" cy="515.5" r="10.0" fill="#fff"/><circle cx="184.5" cy="515.5" r="5.5" fill="#2ca02c"/>
<circle cx="190.5" cy="501.5" r="10.0" fill="#fff"/><circle cx="190.5" cy="501.5" r="5.5" fill="#2ca02c"/>
<circle cx="195.5" cy="500.5" r="10.0" fill="#fff"/><circle cx="195.5" cy="500.5" r="5.5" fill="#2ca02c"/>
<circle cx="200.5" cy="514.5" r="10.0" fill="#fff"/><circle cx="200.5" cy="514.5" r="5.5" fill="#2ca02c"/>
<circle cx="206.5" cy="508.5" r="10.0" fill="#fff"/><circle cx="206.5" cy="508.5" r="5.5" fill="#2ca02c"/>
<circle cx="211.5" cy="510.5" r="10.0" fill="#fff"/><circle cx="211.5" cy="510.5" r="5.5" fill="#2ca02c"/>
<circle cx="217.5" cy="517.5" r="10.0" fill="#fff"/><circle cx="217.5" cy="517.5" r="5.5" fill="#2ca02c"/>
<circle cx="222.5" cy="570.5" r="10.0" fill="#fff"/><circle cx="222.5" cy="570.5" r="5.5" fill="#2ca02c"/>
<circle cx="228.5" cy="623.5" r="10.0" fill="#fff"/><circle cx="228.5" cy="623.5" r="5.5" fill="#2ca02c"/>
<circle cx="233.5" cy="517.5" r="10.0" fill="#fff"/><circle cx="233.5" cy="517.5" r="5.5" fill="#2ca02c"/>
<circle cx="239.5" cy="546.5" r="10.0" fill="#fff"/><circle cx="239.5" cy="546.5" r="5.5" fill="#2ca02c"/>
<circle cx="244.5" cy="686.5" r="10.0" fill="#fff"/><circle cx="244.5" cy="686.5" r="5.5" fill="#2ca02c"/>
<circle cx="250.5" cy="729.5" r="10.0" fill="#fff"/><circle cx="250.5" cy="729.5" r="5.5" fill="#2ca02c"/>
<circle cx="255.5" cy="678.5" r="10.0" fill="#fff"/><circle cx="255.5" cy="678.5" r="5.5" fill="#2ca02c"/>
<circle cx="260.5" cy="673.5" r="10.0" fill="#fff"/><circle cx="260.5" cy="673.5" r="5.5" fill="#2ca02c"/>
<circle cx="266.5" cy="679.5" r="10.0" fill="#fff"/><circle cx="266.5" cy="679.5" r="5.5" fill="#2ca02c"/>
<circle cx="271.5" cy="550.5" r="10.0" fill="#fff"/><circle cx="271.5" cy="550.5" r="5.5" fill="#2ca02c"/>
<circle cx="277.5" cy="550.5" r="10.0" fill="#fff"/><circle cx="277.5" cy="550.5" r="5.5" fill="#2ca02c"/>
<circle cx="282.5" cy="582.5" r="10.0" fill="#fff"/><circle cx="282.5" cy="582.5" r="5.5" fill="#2ca02c"/>
<circle cx="288.5" cy="736.5" r="10.0" fill="#fff"/><circle cx="288.5" cy="736.5" r="5.5" fill="#2ca02c"/>
<circle cx="293.5" cy="569.5" r="10.0" fill="#fff"/><circle cx="293.5" cy="569.5" r="5.5" fill="#2ca02c"/>
<circle cx="299.5" cy="627.5" r="10.0" fill="#fff"/><circle cx="299.5" cy="627.5" r="5.5" fill="#2ca02c"/>
<circle cx="304.5" cy="531.5" r="10.0" fill="#fff"/><circle cx="304.5" cy="531.5" r="5.5" fill="#2ca02c"/>
<circle cx="309.5" cy="634.5" r="10.0" fill="#fff"/><circle cx="309.5" cy="634.5" r="5.5" fill="#2ca02c"/>
<circle cx="315.5" cy="627.5" r="10.0" fill="#fff"/><circle cx="315.5" cy="627.5" r="5.5" fill="#2ca02c"/>
<circle cx="320.5" cy="649.5" r="10.0" fill="#fff"/><circle cx="320.5" cy="649.5" r="5.5" fill="#2ca02c"/>
<circle cx="326.5" cy="669.5" r="10.0" fill="#fff"/><circle cx="326.5" cy="669.5" r="5.5" fill="#2ca02c"/>
<circle cx="331.5" cy="738.5" r="10.0" fill="#fff"/><circle cx="331.5" cy="738.5" r="5.5" fill="#2ca02c"/>
<circle cx="337.5" cy="606.5" r="10.0" fill="#fff"/><circle cx="337.5" cy="606.5" r="5.5" fill="#2ca02c"/>
<circle cx="342.5" cy="578.5" r="10.0" fill="#fff"/><circle cx="342.5" cy="578.5" r="5.5" fill="#2ca02c"/>
<circle cx="348.5" cy="631.5" r="10.0" fill="#fff"/><circle cx="348.5" cy="631.5" r="5.5" fill="#2ca02c"/>
<circle cx="353.5" cy="629.5" r="10.0" fill="#fff"/><circle cx="353.5" cy="629.5" r="5.5" fill="#2ca02c"/>
<circle cx="359.5" cy="588.5" r="10.0" fill="#fff"/><circle cx="359.5" cy="588.5" r="5.5" fill="#2ca02c"/>
<circle cx="364.5" cy="634.5" r="10.0" fill="#fff"/><circle cx="364.5" cy="634.5" r="5.5" fill="#2ca02c"/>
<circle cx="369.5" cy="532.5" r="10.0" fill="#fff"/><circle cx="369.5" cy="532.5" r="5.5" fill="#2ca02c"/>
<circle cx="375.5" cy="578.5" r="10.0" fill="#fff"/><circle cx="375.5" cy="578.5" r="5.5" fill="#2ca02c"/>
<circle cx="380.5" cy="627.5" r="10.0" fill="#fff"/><circle cx="380.5" cy="627.5" r="5.5" fill="#2ca02c"/>
<circle cx="386.5" cy="555.5" r="10.0" fill="#fff"/><circle cx="386.5" cy="555.5" r="5.5" fill="#2ca02c"/>
<circle cx="391.5" cy="539.5" r="10.0" fill="#fff"/><circle cx="391.5" cy="539.5" r="5.5" fill="#2ca02c"/>
<circle cx="397.5" cy="542.5" r="10.0" fill="#fff"/><circle cx="397.5" cy="542.5" r="5.5" fill="#2ca02c"/>
<circle cx="402.5" cy="681.5" r="10.0" fill="#fff"/><circle cx="402.5" cy="681.5" r="5.5" fill="#2ca02c"/>
<circle cx="408.5" cy="675.5" r="10.0" fill="#fff"/><circle cx="408.5" cy="675.5" r="5.5" fill="#2ca02c"/>
<circle cx="413.5" cy="552.5" r="10.0" fill="#fff"/><circle cx="413.5" cy="552.5" r="5.5" fill="#2ca02c"/>
<circle cx="418.5" cy="554.5" r="10.0" fill="#fff"/><circle cx="418.5" cy="554.5" r="5.5" fill="#2ca02c"/>
<circle cx="424.5" cy="627.5" r="10.0" fill="#fff"/><circle cx="424.5" cy="627.5" r="5.5" fill="#2ca02c"/>
<circle cx="429.5" cy="527.5" r="10.0" fill="#fff"/><circle cx="429.5" cy="527.5" r="5.5" fill="#2ca02c"/>
<circle cx="435.5" cy="551.5" r="10.0" fill="#fff"/><circle cx="435.5" cy="551.5" r="5.5" fill="#2ca02c"/>
<circle cx="440.5" cy="705.5" r="10.0" fill="#fff"/><circle cx="440.5" cy="705.5" r="5.5" fill="#2ca02c"/>
<circle cx="446.5" cy="638.5" r="10.0" fill="#fff"/><circle cx="446.5" cy="638.5" r="5.5" fill="#2ca02c"/>
<circle cx="451.5" cy="627.5" r="10.0" fill="#fff"/><circle cx="451.5" cy="627.5" r="5.5" fill="#2ca02c"/>
<circle cx="457.5" cy="628.5" r="10.0" fill="#fff"/><circle cx="457.5" cy="628.5" r="5.5" fill="#2ca02c"/>
<circle cx="462.5" cy="631.5" r="10.0" fill="#fff"/><circle cx="462.5" cy="631.5" r="5.5" fill="#2ca02c"/>
<circle cx="468.5" cy="653.5" r="10.0" fill="#fff"/><circle cx="468.5" cy="653.5" r="5.5" fill="#2ca02c"/>
<circle cx="473.5" cy="697.5" r="10.0" fill="#fff"/><circle cx="473.5" cy="697.5" r="5.5" fill="#2ca02c"/>
<circle cx="478.5" cy="699.5" r="10.0" fill="#fff"/><circle cx="478.5" cy="699.5" r="5.5" fill="#2ca02c"/>
<circle cx="484.5" cy="631.5" r="10.0" fill="#fff"/><circle cx="484.5" cy="631.5" r="5.5" fill="#2ca02c"/>
<circle cx="489.5" cy="652.5" r="10.0" fill="#fff"/><circle cx="489.5" cy="652.5" r="5.5" fill="#2ca02c"/>
<circle cx="495.5" cy="616.5" r="10.0" fill="#fff"/><circle cx="495.5" cy="616.5" r="5.5" fill="#2ca02c"/>
<circle cx="500.5" cy="632.5" r="10.0" fill="#fff"/><circle cx="500.5" cy="632.5" r="5.5" fill="#2ca02c"/>
<circle cx="506.5" cy="698.5" r="10.0" fill="#fff"/><circle cx="506.5" cy="698.5" r="5.5" fill="#2ca02c"/>
<circle cx="511.5" cy="715.5" r="10.0" fill="#fff"/><circle cx="511.5" cy="715.5" r="5.5" fill="#2ca02c"/>
<circle cx="517.5" cy="701.5" r="10.0" fill="#fff"/><circle cx="517.5" cy="701.5" r="5.5" fill="#2ca02c"/>
<circle cx="522.5" cy="641.5" r="10.0" fill="#fff"/><circle cx="522.5" cy="641.5" r="5.5" fill="#2ca02c"/>
<circle cx="528.5" cy="635.5" r="10.0" fill="#fff"/><circle cx="528.5" cy="635.5" r="5.5" fill="#2ca02c"/>
<circle cx="533.5" cy="603.5" r="10.0" fill="#fff"/><circle cx="533.5" cy="603.5" r="5.5" fill="#2ca02c"/>
<circle cx="538.5" cy="517.5" r="10.0" fill="#fff"/><circle cx="538.5" cy="517.5" r="5.5" fill="#2ca02c"/>
<circle cx="544.5" cy="543.5" r="10.0" fill="#fff"/><circle cx="544.5" cy="543.5" r="5.5" fill="#2ca02c"/>
<circle cx="549.5" cy="635.5" r="10.0" fill="#fff"/><circle cx="549.5" cy="635.5" r="5.5" fill="#2ca02c"/>
<circle cx="555.5" cy="588.5" r="10.0" fill="#fff"/><circle cx="555.5" cy="588.5" r="5.5" fill="#2ca02c"/>
<circle cx="560.5" cy="720.5" r="10.0" fill="#fff"/><circle cx="560.5" cy="720.5" r="5.5" fill="#2ca02c"/>
<circle cx="566.5" cy="531.5" r="10.0" fill="#fff"/><circle cx="566.5" cy="531.5" r="5.5" fill="#2ca02c"/>
<circle cx="571.5" cy="531.5" r="10.0" fill="#fff"/><circle cx="571.5" cy="531.5" r="5.5" fill="#2ca02c"/>
<circle cx="577.5" cy="519.5" r="10.0" fill="#fff"/><circle cx="577.5" cy="519.5" r="5.5" fill="#2ca02c"/>
<circle cx="582.5" cy="557.5" r="10.0" fill="#fff"/><circle cx="582.5" cy="557.5" r="5.5" fill="#2ca02c"/>
<circle cx="588.5" cy="644.5" r="10.0" fill="#fff"/><circle cx="588.5" cy="644.5" r="5.5" fill="#2ca02c"/>
<circle cx="593.5" cy="617.5" r="10.0" fill="#fff"/><circle cx="593.5" cy="617.5" r="5.5" fill="#2ca02c"/>
<circle cx="598.5" cy="663.5" r="10.0" fill="#fff"/><circle cx="598.5" cy="663.5" r="5.5" fill="#2ca02c"/>
<circle cx="604.5" cy="611.5" r="10.0" fill="#fff"/><circle cx="604.5" cy="611.5" r="5.5" fill="#2ca02c"/>
<circle cx="609.5" cy="645.5" r="10.0" fill="#fff"/><circle cx="609.5" cy="645.5" r="5.5" fill="#2ca02c"/>
<circle cx="615.5" cy="589.5" r="10.0" fill="#fff"/><circle cx="615.5" cy="589.5" r="5.5" fill="#2ca02c"/>
<circle cx="620.5" cy="620.5" r="10.0" fill="#fff"/><circle cx="620.5" cy="620.5" r="5.5" fill="#2ca02c"/>
<circle cx="626.5" cy="740.5" r="10.0" fill="#fff"/><circle cx="626.5" cy="740.5" r="5.5" fill="#2ca02c"/>
<circle cx="631.5" cy="736.5" r="10.0" fill="#fff"/><circle cx="631.5" cy="736.5" r="5.5" fill="#2ca02c"/>
<circle cx="637.5" cy="679.5" r="10.0" fill="#fff"/><circle cx="637.5" cy="679.5" r="5.5" fill="#2ca02c"/>
<circle cx="642.5" cy="665.5" r="10.0" fill="#fff"/><circle cx="642.5" cy="665.5" r="5.5" fill="#2ca02c"/>
<circle cx="647.5" cy="668.5" r="10.0" fill="#fff"/><circle cx="647.5" cy="668.5" r="5.5" fill="#2ca02c"/>
<circle cx="653.5" cy="708.5" r="10.0" fill="#fff"/><circle cx="653.5" cy="708.5" r="5.5" fill="#2ca02c"/>
<circle cx="658.5" cy="768.5" r="10.0" fill="#fff"/><circle cx="658.5" cy="768.5" r="5.5" fill="#2ca02c"/>
<circle cx="664.5" cy="587.5" r="10.0" fill="#fff"/><circle cx="664.5" cy="587.5" r="5.5" fill="#2ca02c"/>
<circle cx="669.5" cy="578.5" r="10.0" fill="#fff"/><circle cx="669.5" cy="578.5" r="5.5" fill="#2ca02c"/>
<circle cx="675.5" cy="650.5" r="10.0" fill="#fff"/><circle cx="675.5" cy="650.5" r="5.5" fill="#2ca02c"/>
<circle cx="680.5" cy="535.5" r="10.0" fill="#fff"/><circle cx="680.5" cy="535.5" r="5.5" fill="#2ca02c"/>
<circle cx="686.5" cy="537.5" r="10.0" fill="#fff"/><circle cx="686.5" cy="537.5" r="5.5" fill="#2ca02c"/>
<circle cx="691.5" cy="577.5" r="10.0" fill="#fff"/><circle cx="691.5" cy="577.5" r="5.5" fill="#2ca02c"/>
<circle cx="696.5" cy="626.5" r="10.0" fill="#fff"/><circle cx="696.5" cy="626.5" r="5.5" fill="#2ca02c"/>
<circle cx="702.5" cy="705.5" r="10.0" fill="#fff"/><circle cx="702.5" cy="705.5" r="5.5" fill="#2ca02c"/>
<circle cx="707.5" cy="732.5" r="10.0" fill="#fff"/><circle cx="707.5" cy="732.5" r="5.5" fill="#2ca02c"/>
<circle cx="713.5" cy="737.5" r="10.0" fill="#fff"/><circle cx="713.5" cy="737.5" r="5.5" fill="#2ca02c"/>
<circle cx="718.5" cy="726.5" r="10.0" fill="#fff"/><circle cx="718.5" cy="726.5" r="5.5" fill="#2ca02c"/>
<circle cx="724.5" cy="741.5" r="10.0" fill="#fff"/><circle cx="724.5" cy="741.5" r="5.5" fill="#2ca02c"/>
<circle cx="729.5" cy="740.5" r="10.0" fill="#fff"/><circle cx="729.5" cy="740.5" r="5.5" fill="#2ca02c"/>
<circle cx="735.5" cy="740.5" r="10.0" fill="#fff"/><circle cx="735.5" cy="740.5" r="5.5" fill="#2ca02c"/>
<circle cx="740.5" cy="741.5" r="10.0" fill="#fff"/><circle cx="740.5" cy="741.5" r="5.5" fill="#2ca02c"/>
<circle cx="746.5" cy="756.5" r="10.0" fill="#fff"/><circle cx="746.5" cy="756.5" r="5.5" fill="#2ca02c"/>
<circle cx="751.5" cy="702.5" r="10.0" fill="#fff"/><circle cx="751.5" cy="702.5" r="5.5" fill="#2ca02c"/>
<circle cx="756.5" cy="711.5" r="10.0" fill="#fff"/><circle cx="756.5" cy="711.5" r="5.5" fill="#2ca02c"/>
<circle cx="762.5" cy="730.5" r="10.0" fill="#fff"/><circle cx="762.5" cy="730.5" r="5.5" fill="#2ca02c"/>
<circle cx="767.5" cy="731.5" r="10.0" fill="#fff"/><circle cx="767.5" cy="731.5" r="5.5" fill="#2ca02c"/>
<circle cx="773.5" cy="734.5" r="10.0" fill="#fff"/><circle cx="773.5" cy="734.5" r="5.5" fill="#2ca02c"/>
<circle cx="778.5" cy="699.5" r="10.0" fill="#fff"/><circle cx="778.5" cy="699.5" r="5.5" fill="#2ca02c"/>
<circle cx="784.5" cy="710.5" r="10.0" fill="#fff"/><circle cx="784.5" cy="710.5" r="5.5" fill="#2ca02c"/>
<circle cx="789.5" cy="726.5" r="10.0" fill="#fff"/><circle cx="789.5" cy="726.5" r="5.5" fill="#2ca02c"/>
<circle cx="795.5" cy="749.5" r="10.0" fill="#fff"/><circle cx="795.5" cy="749.5" r="5.5" fill="#2ca02c"/>
<circle cx="800.5" cy="713.5" r="10.0" fill="#fff"/><circle cx="800.5" cy="713.5" r="5.5" fill="#2ca02c"/>
<circle cx="806.5" cy="716.5" r="10.0" fill="#fff"/><circle cx="806.5" cy="716.5" r="5.5" fill="#2ca02c"/>
<circle cx="811.5" cy="700.5" r="10.0" fill="#fff"/><circle cx="811.5" cy="700.5" r="5.5" fill="#2ca02c"/>
<circle cx="816.5" cy="702.5" r="10.0" fill="#fff"/><circle cx="816.5" cy="702.5" r="5.5" fill="#2ca02c"/>
<circle cx="822.5" cy="715.5" r="10.0" fill="#fff"/><circle cx="822.5" cy="715.5" r="5.5" fill="#2ca02c"/>
<circle cx="827.5" cy="579.5" r="10.0" fill="#fff"/><circle cx="827.5" cy="579.5" r="5.5" fill="#2ca02c"/>
<circle cx="833.5" cy="654.5" r="10.0" fill="#fff"/><circle cx="833.5" cy="654.5" r="5.5" fill="#2ca02c"/>
<circle cx="838.5" cy="700.5" r="10.0" fill="#fff"/><circle cx="838.5" cy="700.5" r="5.5" fill="#2ca02c"/>
<circle cx="844.5" cy="724.5" r="10.0" fill="#fff"/><circle cx="844.5" cy="724.5" r="5.5" fill="#2ca02c"/>
<circle cx="849.5" cy="735.5" r="10.0" fill="#fff"/><circle cx="849.5" cy="735.5" r="5.5" fill="#2ca02c"/>
<circle cx="855.5" cy="726.5" r="10.0" fill="#fff"/><circle cx="855.5" cy="726.5" r="5.5" fill="#2ca02c"/>
<circle cx="860.5" cy="706.5" r="10.0" fill="#fff"/><circle cx="860.5" cy="706.5" r="5.5" fill="#2ca02c"/>
<circle cx="866.5" cy="706.5" r="10.0" fill="#fff"/><circle cx="866.5" cy="706.5" r="5.5" fill="#2ca02c"/>
<circle cx="871.5" cy="707.5" r="10.0" fill="#fff"/><circle cx="871.5" cy="707.5" r="5.5" fill="#2ca02c"/>
<circle cx="876.5" cy="710.5" r="10.0" fill="#fff"/><circle cx="876.5" cy="710.5" r="5.5" fill="#2ca02c"/>
<circle cx="882.5" cy="771.5" r="10.0" fill="#fff"/><circle cx="882.5" cy="771.5" r="5.5" fill="#2ca02c"/>
<circle cx="887.5" cy="711.5" r="10.0" fill="#fff"/><circle cx="887.5" cy="711.5" r="5.5" fill="#2ca02c"/>
<circle cx="893.5" cy="720.5" r="10.0" fill="#fff"/><circle cx="893.5" cy="720.5" r="5.5" fill="#2ca02c"/>
<circle cx="898.5" cy="703.5" r="10.0" fill="#fff"/><circle cx="898.5" cy="703.5" r="5.5" fill="#2ca02c"/>
<circle cx="904.5" cy="736.5" r="10.0" fill="#fff"/><circle cx="904.5" cy="736.5" r="5.5" fill="#2ca02c"/>
<circle cx="909.5" cy="715.5" r="10.0" fill="#fff"/><circle cx="909.5" cy="715.5" r="5.5" fill="#2ca02c"/>
<circle cx="915.5" cy="732.5" r="10.0" fill="#fff"/><circle cx="915.5" cy="732.5" r="5.5" fill="#2ca02c"/>
<circle cx="920.5" cy="686.5" r="10.0" fill="#fff"/><circle cx="920.5" cy="686.5" r="5.5" fill="#2ca02c"/>
<circle cx="925.5" cy="712.5" r="10.0" fill="#fff"/><circle cx="925.5" cy="712.5" r="5.5" fill="#2ca02c"/>
<circle cx="931.5" cy="685.5" r="10.0" fill="#fff"/><circle cx="931.5" cy="685.5" r="5.5" fill="#2ca02c"/>
<circle cx="936.5" cy="743.5" r="10.0" fill="#fff"/><circle cx="936.5" cy="743.5" r="5.5" fill="#2ca02c"/>
<circle cx="942.5" cy="760.5" r="10.0" fill="#fff"/><circle cx="942.5" cy="760.5" r="5.5" fill="#2ca02c"/>
<circle cx="947.5" cy="733.5" r="10.0" fill="#fff"/><circle cx="947.5" cy="733.5" r="5.5" fill="#2ca02c"/>
<circle cx="953.5" cy="711.5" r="10.0" fill="#fff"/><circle cx="953.5" cy="711.5" r="5.5" fill="#2ca02c"/>
<circle cx="958.5" cy="702.5" r="10.0" fill="#fff"/><circle cx="958.5" cy="702.5" r="5.5" fill="#2ca02c"/>
<circle cx="964.5" cy="713.5" r="10.0" fill="#fff"/><circle cx="964.5" cy="713.5" r="5.5" fill="#2ca02c"/>
<circle cx="969.5" cy="753.5" r="10.0" fill="#fff"/><circle cx="969.5" cy="753.5" r="5.5" fill="#2ca02c"/>
<circle cx="975.5" cy="696.5" r="10.0" fill="#fff"/><circle cx="975.5" cy="696.5" r="5.5" fill="#2ca02c"/>
<circle cx="980.5" cy="715.5" r="10.0" fill="#fff"/><circle cx="980.5" cy="715.5" r="5.5" fill="#2ca02c"/>
<circle cx="985.5" cy="699.5" r="10.0" fill="#fff"/><circle cx="985.5" cy="699.5" r="5.5" fill="#2ca02c"/>
<circle cx="991.5" cy="708.5" r="10.0" fill="#fff"/><circle cx="991.5" cy="708.5" r="5.5" fill="#2ca02c"/>
<circle cx="996.5" cy="718.5" r="10.0" fill="#fff"/><circle cx="996.5" cy="718.5" r="5.5" fill="#2ca02c"/>
<circle cx="1002.5" cy="715.5" r="10.0" fill="#fff"/><circle cx="1002.5" cy="715.5" r="5.5" fill="#2ca02c"/>
<circle cx="1007.5" cy="748.5" r="10.0" fill="#fff"/><circle cx="1007.5" cy="748.5" r="5.5" fill="#2ca02c"/>
<circle cx="1013.5" cy="753.5" r="10.0" fill="#fff"/><circle cx="1013.5" cy="753.5" r="5.5" fill="#2ca02c"/>
<circle cx="1018.5" cy="722.5" r="10.0" fill="#fff"/><circle cx="1018.5" cy="722.5" r="5.5" fill="#2ca02c"/>
<circle cx="1024.5" cy="692.5" r="10.0" fill="#fff"/><circle cx="1024.5" cy="692.5" r="5.5" fill="#2ca02c"/>
<circle cx="1029.5" cy="760.5" r="10.0" fill="#fff"/><circle cx="1029.5" cy="760.5" r="5.5" fill="#2ca02c"/>
<circle cx="1035.5" cy="671.5" r="10.0" fill="#fff"/><circle cx="1035.5" cy="671.5" r="5.5" fill="#2ca02c"/>
<circle cx="1040.5" cy="682.5" r="10.0" fill="#fff"/><circle cx="1040.5" cy="682.5" r="5.5" fill="#2ca02c"/>
<circle cx="1045.5" cy="701.5" r="10.0" fill="#fff"/><circle cx="1045.5" cy="701.5" r="5.5" fill="#2ca02c"/>
<circle cx="1051.5" cy="687.5" r="10.0" fill="#fff"/><circle cx="1051.5" cy="687.5" r="5.5" fill="#2ca02c"/>
<circle cx="1056.5" cy="733.5" r="10.0" fill="#fff"/><circle cx="1056.5" cy="733.5" r="5.5" fill="#2ca02c"/>
<circle cx="1062.5" cy="690.5" r="10.0" fill="#fff"/><circle cx="1062.5" cy="690.5" r="5.5" fill="#2ca02c"/>
<circle cx="1067.5" cy="633.5" r="10.0" fill="#fff"/><circle cx="1067.5" cy="633.5" r="5.5" fill="#2ca02c"/>
<circle cx="1073.5" cy="695.5" r="10.0" fill="#fff"/><circle cx="1073.5" cy="695.5" r="5.5" fill="#2ca02c"/>
<circle cx="1078.5" cy="698.5" r="10.0" fill="#fff"/><circle cx="1078.5" cy="698.5" r="5.5" fill="#2ca02c"/>
<circle cx="1084.5" cy="712.5" r="10.0" fill="#fff"/><circle cx="1084.5" cy="712.5" r="5.5" fill="#2ca02c"/>
<circle cx="1089.5" cy="735.5" r="10.0" fill="#fff"/><circle cx="1089.5" cy="735.5" r="5.5" fill="#2ca02c"/>
<circle cx="1094.5" cy="719.5" r="10.0" fill="#fff"/><circle cx="1094.5" cy="719.5" r="5.5" fill="#2ca02c"/>
<circle cx="1100.5" cy="665.5" r="10.0" fill="#fff"/><circle cx="1100.5" cy="665.5" r="5.5" fill="#2ca02c"/>
<circle cx="1105.5" cy="660.5" r="10.0" fill="#fff"/><circle cx="1105.5" cy="660.5" r="5.5" fill="#2ca02c"/>
<circle cx="1111.5" cy="715.5" r="10.0" fill="#fff"/><circle cx="1111.5" cy="715.5" r="5.5" fill="#2ca02c"/>
<circle cx="1116.5" cy="701.5" r="10.0" fill="#fff"/><circle cx="1116.5" cy="701.5" r="5.5" fill="#2ca02c"/>
<circle cx="1122.5" cy="699.5" r="10.0" fill="#fff"/><circle cx="1122.5" cy="699.5" r="5.5" fill="#2ca02c"/>
<circle cx="1127.5" cy="709.5" r="10.0" fill="#fff"/><circle cx="1127.5" cy="709.5" r="5.5" fill="#2ca02c"/>
<circle cx="1133.5" cy="713.5" r="10.0" fill="#fff"/><circle cx="1133.5" cy="713.5" r="5.5" fill="#2ca02c"/>
<circle cx="1138.5" cy="686.5" r="10.0" fill="#fff"/><circle cx="1138.5" cy="686.5" r="5.5" fill="#2ca02c"/>
<circle cx="1144.5" cy="750.5" r="10.0" fill="#fff"/><circle cx="1144.5" cy="750.5" r="5.5" fill="#2ca02c"/>
<circle cx="1149.5" cy="639.5" r="10.0" fill="#fff"/><circle cx="1149.5" cy="639.5" r="5.5" fill="#2ca02c"/>
<circle cx="1154.5" cy="701.5" r="10.0" fill="#fff"/><circle cx="1154.5" cy="701.5" r="5.5" fill="#2ca02c"/>
<circle cx="1160.5" cy="720.5" r="10.0" fill="#fff"/><circle cx="1160.5" cy="720.5" r="5.5" fill="#2ca02c"/>
</g>
<path d="M75.5 57.5V838.5H1165.5" stroke="#000" stroke-width="1" fill="none"/>
</svg></body></html>
